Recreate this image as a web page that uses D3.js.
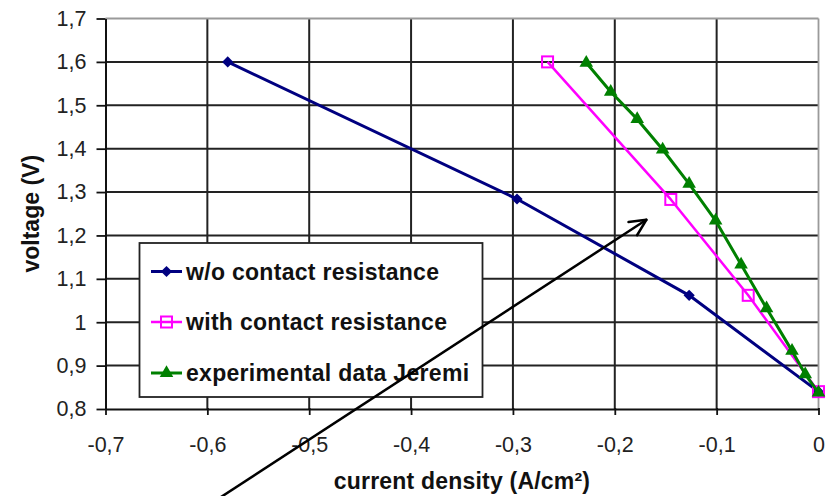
<!DOCTYPE html>
<html>
<head>
<meta charset="utf-8">
<script src="https://cdn.jsdelivr.net/npm/d3@7"></script>
<style>
html,body{margin:0;padding:0;background:#fff;}
svg{display:block;}
text{font-family:"Liberation Sans",Arial,sans-serif;}
</style>
</head>
<body>
<svg id="chart" width="831" height="496"></svg>
<script>
// ---- data ----
const xTickValues = [-0.7, -0.6, -0.5, -0.4, -0.3, -0.2, -0.1, 0];
const xTickLabels = ["-0,7", "-0,6", "-0,5", "-0,4", "-0,3", "-0,2", "-0,1", "0"];
const yTickValues = [0.8, 0.9, 1.0, 1.1, 1.2, 1.3, 1.4, 1.5, 1.6, 1.7];
const yTickLabels = ["0,8", "0,9", "1", "1,1", "1,2", "1,3", "1,4", "1,5", "1,6", "1,7"];

const seriesNames = ["w/o contact resistance", "with contact resistance", "experimental data Jeremi"];

const woX = [-0.58, -0.296, -0.127, 0];
const woY = [1.6, 1.284, 1.062, 0.84];

const withX = [-0.266, -0.145, -0.069, 0];
const withY = [1.6, 1.283, 1.062, 0.84];

const expX = [-0.228, -0.204, -0.178, -0.153, -0.127, -0.101, -0.076, -0.051, -0.026, -0.013, 0];
const expY = [1.598, 1.531, 1.468, 1.398, 1.319, 1.234, 1.133, 1.032, 0.934, 0.88, 0.838];

// annotation arrow (data coordinates): tail, tip
const arrowX = [-0.588, -0.169];
const arrowY = [0.595, 1.236];

// ---- chart ----
const svg = d3.select("#chart");
const x = d3.scaleLinear().domain([-0.7, 0]).range([105.5, 818.5]);
const y = d3.scaleLinear().domain([0.8, 1.7]).range([409, 18.5]);

// grid
const grid = svg.append("g");
grid.selectAll("line.h").data(yTickValues.slice(1, -1)).enter().append("line")
  .attr("x1", x(-0.7)).attr("x2", x(0))
  .attr("y1", d => y(d)).attr("y2", d => y(d))
  .attr("stroke", "#222").attr("stroke-width", 2);
grid.selectAll("line.v").data(xTickValues.slice(1, -1)).enter().append("line")
  .attr("y1", y(0.8)).attr("y2", y(1.7))
  .attr("x1", d => x(d)).attr("x2", d => x(d))
  .attr("stroke", "#222").attr("stroke-width", 2);
// top and right border (gray)
svg.append("line").attr("x1", x(-0.7)).attr("x2", x(0)).attr("y1", y(1.7)).attr("y2", y(1.7))
  .attr("stroke", "#9a9a9a").attr("stroke-width", 1.8);
svg.append("line").attr("x1", x(0)).attr("x2", x(0)).attr("y1", y(1.7)).attr("y2", y(0.8))
  .attr("stroke", "#9a9a9a").attr("stroke-width", 1.8);

// axes
const xAxis = d3.axisBottom(x).tickValues(xTickValues)
  .tickFormat((d, i) => xTickLabels[i]).tickSize(6).tickPadding(22).tickSizeOuter(0);
const gx = svg.append("g").attr("transform", `translate(0,${y(0.8)})`).call(xAxis);
gx.select(".domain").attr("stroke", "#111").attr("stroke-width", 2);
gx.selectAll(".tick line").attr("stroke", "#111").attr("stroke-width", 1.8).attr("y1", -1);
gx.selectAll(".tick text").attr("font-size", 21.5).attr("fill", "#222")
  .attr("font-family", "Liberation Sans, Arial, sans-serif");

const yAxis = d3.axisLeft(y).tickValues(yTickValues)
  .tickFormat((d, i) => yTickLabels[i]).tickSize(9).tickPadding(10).tickSizeOuter(0);
const gy = svg.append("g").attr("transform", `translate(${x(-0.7)},0)`).call(yAxis);
gy.select(".domain").attr("stroke", "#111").attr("stroke-width", 2);
gy.selectAll(".tick line").attr("stroke", "#111").attr("stroke-width", 1.8);
gy.selectAll(".tick text").attr("font-size", 21.5).attr("fill", "#222")
  .attr("font-family", "Liberation Sans, Arial, sans-serif");

// axis titles
svg.append("text").attr("x", (x(-0.7) + x(0)) / 2).attr("y", 489)
  .attr("text-anchor", "middle").attr("font-size", 23).attr("font-weight", "bold").attr("fill", "#111")
  .attr("letter-spacing", 0.2)
  .text("current density (A/cm²)");
svg.append("text")
  .attr("transform", `translate(39,${(y(0.8) + y(1.7)) / 2}) rotate(-90)`)
  .attr("text-anchor", "middle").attr("font-size", 23).attr("font-weight", "bold").attr("fill", "#111")
  .text("voltage (V)");

// series
const line = d3.line().x(d => x(d[0])).y(d => y(d[1]));
const series = [
  { name: seriesNames[0], xs: woX, ys: woY, color: "#000080", width: 3, marker: "diamond" },
  { name: seriesNames[1], xs: withX, ys: withY, color: "#ff00ff", width: 2.5, marker: "square" },
  { name: seriesNames[2], xs: expX, ys: expY, color: "#008000", width: 3, marker: "triangle" }
];

function drawMarker(g, type, cx, cy, color) {
  if (type === "diamond") {
    g.append("path").attr("d", d3.symbol().type(d3.symbolDiamond2).size(80)())
      .attr("transform", `translate(${cx},${cy})`).attr("fill", color);
  } else if (type === "square") {
    g.append("rect").attr("x", cx - 5.5).attr("y", cy - 5.5).attr("width", 11).attr("height", 11)
      .attr("fill", "#fff").attr("fill-opacity", 0).attr("stroke", color).attr("stroke-width", 2);
  } else {
    g.append("path").attr("d", d3.symbol().type(d3.symbolTriangle).size(80)())
      .attr("transform", `translate(${cx},${cy})`).attr("fill", color);
  }
}

series.forEach(s => {
  const pts = s.xs.map((v, i) => [v, s.ys[i]]);
  const g = svg.append("g");
  g.append("path").datum(pts).attr("d", line).attr("fill", "none")
    .attr("stroke", s.color).attr("stroke-width", s.width).attr("stroke-linejoin", "round");
  pts.forEach(p => drawMarker(g, s.marker, x(p[0]), y(p[1]), s.color));
});

// legend
const lg = svg.append("g");
lg.append("rect").attr("x", 139.5).attr("y", 243).attr("width", 343).attr("height", 154)
  .attr("fill", "#fff").attr("stroke", "#222").attr("stroke-width", 1.8);
const rowY = [271.5, 322, 373];
series.forEach((s, i) => {
  lg.append("line").attr("x1", 151).attr("x2", 182).attr("y1", rowY[i]).attr("y2", rowY[i])
    .attr("stroke", s.color).attr("stroke-width", s.width);
  drawMarker(lg, s.marker, 166.5, rowY[i], s.color);
  lg.append("text").attr("x", 186).attr("y", rowY[i]).attr("dy", "0.36em")
    .attr("font-size", 23).attr("font-weight", "bold").attr("fill", "#111")
    .attr("letter-spacing", 0.3)
    .text(s.name);
});

// annotation arrow
const ax0 = x(arrowX[0]), ay0 = y(arrowY[0]), ax1 = x(arrowX[1]), ay1 = y(arrowY[1]);
svg.append("line").attr("x1", ax0).attr("y1", ay0).attr("x2", ax1).attr("y2", ay1)
  .attr("stroke", "#000").attr("stroke-width", 2.5);
const ang = Math.atan2(ay1 - ay0, ax1 - ax0);
const headLen = 18, spread = 0.45;
[ang + Math.PI - spread, ang + Math.PI + spread].forEach(a => {
  svg.append("line").attr("x1", ax1).attr("y1", ay1)
    .attr("x2", ax1 + headLen * Math.cos(a)).attr("y2", ay1 + headLen * Math.sin(a))
    .attr("stroke", "#000").attr("stroke-width", 2.5).attr("stroke-linecap", "round");
});
</script>
</body>
</html>
